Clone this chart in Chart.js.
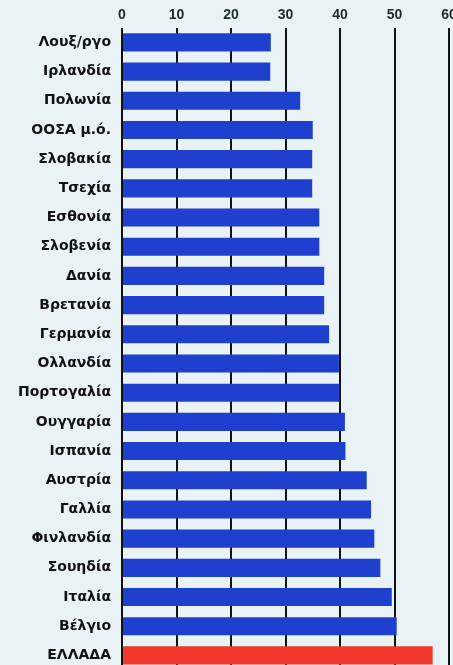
<!DOCTYPE html>
<html>
<head>
<meta charset="utf-8">
<script src="https://cdn.jsdelivr.net/npm/chart.js@4"></script>
<style>
html,body{margin:0;padding:0;overflow:hidden;background:#e9f2f5;}
#wrap{width:453px;height:675px;}
</style>
</head>
<body>
<div id="wrap"><canvas id="c" width="453" height="675"></canvas></div>
<script>
const categories = ["Λουξ/ργο","Ιρλανδία","Πολωνία","ΟΟΣΑ μ.ό.","Σλοβακία","Τσεχία","Εσθονία","Σλοβενία","Δανία","Βρετανία","Γερμανία","Ολλανδία","Πορτογαλία","Ουγγαρία","Ισπανία","Αυστρία","Γαλλία","Φινλανδία","Σουηδία","Ιταλία","Βέλγιο","ΕΛΛΑΔΑ"];
const values = [27.3,27.2,32.7,35.0,34.9,34.9,36.2,36.2,37.1,37.1,38.0,39.8,39.9,40.9,41.0,44.9,45.7,46.3,47.4,49.5,50.4,57.0];
const tickValues = [0,10,20,30,40,50,60];
const highlight = "ΕΛΛΑΔΑ";

const barColors = categories.map(c => c === highlight ? "#f2382b" : "#1f3fcf");

new Chart(document.getElementById("c"), {
  type: "bar",
  data: {
    labels: categories,
    datasets: [{
      data: values,
      backgroundColor: barColors,
      borderWidth: 0,
      barPercentage: 0.62,
      categoryPercentage: 1.0
    }]
  },
  options: {
    indexAxis: "y",
    responsive: false,
    animation: false,
    layout: { padding: { top: 3, right: 4, bottom: 5, left: 0 } },
    plugins: { legend: { display: false }, tooltip: { enabled: false } },
    scales: {
      x: {
        position: "top",
        min: 0, max: 60,
        afterBuildTicks: s => { s.ticks = tickValues.map(v => ({ value: v })); },
        afterFit: s => { s.paddingRight = 0; s.paddingLeft = 0; },
        border: { display: false },
        grid: { color: "#111", lineWidth: 2, drawTicks: false },
        ticks: { color: "#1b2b2b", padding: 4, font: { family: "Liberation Sans", size: 14, weight: "bold" } }
      },
      y: {
        afterFit: s => { s.width = 122; s.paddingTop = 0; s.paddingBottom = 0; },
        border: { display: false },
        grid: { display: false, drawTicks: false },
        ticks: { color: "#111", padding: 11, font: { family: "DejaVu Sans", size: 14, weight: "bold" } }
      }
    }
  }
});
</script>
</body>
</html>
